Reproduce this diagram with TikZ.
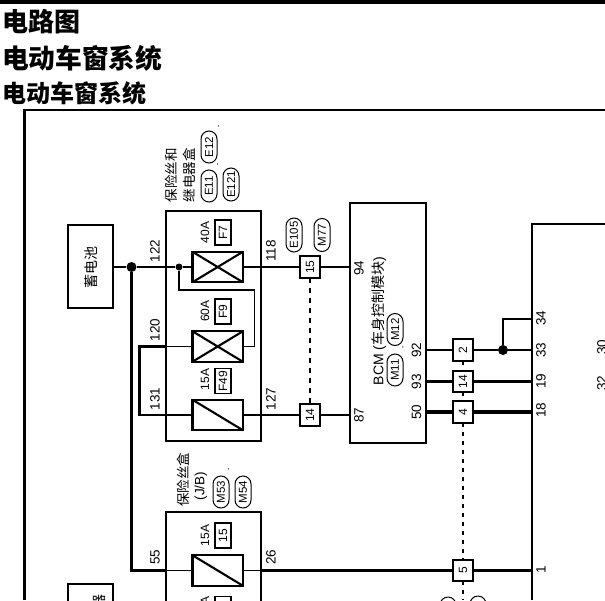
\documentclass[tikz,border=0pt]{standalone}
\usepackage{fontspec}
\setmainfont{Liberation Sans}
\newfontfamily\cjk{Noto Sans CJK SC}
\usetikzlibrary{shapes.misc}
\tikzset{
  boxline/.style={draw=black,line width=2pt,inner sep=0pt,outer sep=0pt},
  fusebox/.style={boxline,line width=2.4pt,minimum width=50.5pt,minimum height=30.5pt},
  tagbox/.style={boxline,line width=1.4pt,minimum width=16pt,minimum height=25pt,font=\fontsize{12}{13}\selectfont},
  term/.style={boxline,line width=1.6pt,fill=white,minimum width=21.5pt,minimum height=20pt,rotate=90,font=\fontsize{12}{13}\selectfont},
  pinnum/.style={rotate=90,inner sep=0pt,font=\fontsize{13.5}{14}\selectfont},
  amp/.style={rotate=90,inner sep=0pt,font=\fontsize{12}{13}\selectfont},
  cjklabel/.style={rotate=90,inner sep=0pt,font=\cjk\fontsize{13.5}{14}\selectfont},
  oval/.style={rounded rectangle,draw=black,line width=1pt,rotate=90,inner sep=0pt,minimum width=32pt,minimum height=16pt,font=\fontsize{11.5}{12}\selectfont},
  commamark/.style={inner sep=0pt,font=\fontsize{8}{8}\selectfont},
  dotbig/.style={circle,fill=black,inner sep=0pt,minimum size=10pt},
  dotsmall/.style={circle,fill=black,inner sep=0pt,minimum size=7pt},
  titletext/.style={anchor=base west,inner sep=0pt},
  wthin/.style={line width=1.3pt},
  wmid/.style={line width=2.1pt},
  wthick/.style={line width=2.8pt},
  wheavy/.style={line width=3.4pt},
  dashw/.style={line width=1.6pt,dash pattern=on 4pt off 5pt},
  dashthin/.style={line width=1.1pt,dash pattern=on 5pt off 5pt},
}
\begin{document}
\begin{tikzpicture}[x=1pt,y=-1pt]
\useasboundingbox (0,0) rectangle (605,600);
\clip (0,0) rectangle (605,600);
\fill[white] (0,0) rectangle (605,600);
\fill[black] (0,0) rectangle (605,4);
% titles
\node[titletext,font=\cjk\bfseries\fontsize{26}{28}\selectfont] (t1) at (2,31) {电路图};
\node[titletext,font=\cjk\bfseries\fontsize{26.7}{28}\selectfont] (t2) at (2,68) {电动车窗系统};
\node[titletext,font=\cjk\bfseries\fontsize{24}{26}\selectfont] (t3) at (2,102) {电动车窗系统};
% frame and right module
\draw[line width=2.2pt] (24.5,600) -- (24.5,110) -- (605,110);
\draw[line width=2pt] (531.7,600) -- (531.7,224) -- (605,224);
\coordinate (p34) at (531.7,319);
\coordinate (p33) at (531.7,350);
\coordinate (p19) at (531.7,381.5);
\coordinate (p18) at (531.7,412);
\coordinate (p1) at (531.7,570.5);
% boxes
\node[boxline,minimum width=45pt,minimum height=83pt] (batt) at (90.5,266.5) {};
\node[cjklabel,font=\cjk\fontsize{14}{15}\selectfont] (battl) at (91.5,267) {蓄电池};
\node[boxline,minimum width=45pt,minimum height=60pt] (low) at (90.5,614) {};
\node[cjklabel,font=\cjk\fontsize{14}{15}\selectfont] (lowl) at (99.5,601) {器};
\node[boxline,minimum width=94.5pt,minimum height=230pt] (fb1) at (213.3,325.5) {};
\node[boxline,minimum width=94.5pt,minimum height=200pt] (fb2) at (213.3,612) {};
\node[boxline,minimum width=75.5pt,minimum height=240pt] (bcm) at (387.8,323) {};
% fuses
\node[fusebox] (f7) at (217.7,267) {};
\node[fusebox] (f9) at (217.7,346.5) {};
\node[fusebox] (f49) at (217.7,415) {};
\node[fusebox] (f15) at (217.7,570.5) {};
\draw[wmid] (f7.north west) -- (f7.south east) (f7.south west) -- (f7.north east);
\draw[wmid] (f9.north west) -- (f9.south east) (f9.south west) -- (f9.north east);
\draw[wmid] (f49.north west) -- (f49.south east);
\draw[wmid] (f15.north west) -- (f15.south east);
\node[tagbox] (tf7) at (223,232.5) {\rotatebox{90}{F7}};
\node[tagbox] (tf9) at (223,311.5) {\rotatebox{90}{F9}};
\node[tagbox] (tf49) at (223,381) {\rotatebox{90}{F49}};
\node[tagbox] (tf15) at (223,535.5) {\rotatebox{90}{15}};
\node[tagbox] (tflow) at (223,609) {};
\node[amp] (a40) at (205,232.5) {40A};
\node[amp] (a60) at (205,311) {60A};
\node[amp] (a15a) at (205,379.5) {15A};
\node[amp] (a15b) at (205,535.5) {15A};
\node[amp] (a15c) at (205,600) {A};
% junctions
\node[dotbig] (j1) at (131.5,267) {};
\node[dotsmall] (j2) at (179,267) {};
\node[dotbig] (j3) at (503,350) {};
% terminals
\node[term] (c15) at (310,267) {15};
\node[term] (c14a) at (310,415) {14};
\node[term] (c2) at (463,350) {2};
\node[term] (c14b) at (463,381.5) {14};
\node[term] (c4) at (463,412) {4};
\node[term] (c5) at (463,570.5) {5};
\coordinate (cdown) at (463,600);
% wires
\draw[wmid] (batt.east |- j1) -- (j1) -- (j2) -- (f7.west);
\draw[wmid] (f7.east) -- (c15.north);
\draw[wmid] (c15.south) -- (c15.south -| bcm.west);
\draw[wthin] (j2) |- (254.5,290) |- (f9.east);
\draw[wthin] (fb1.west |- f9) -- (f9.west);
\draw[wthin] (fb1.west |- f49) -- (f49.west);
\draw[wthin] (f49.east) -- (fb1.east |- f49);
\draw[wmid] (fb1.east |- f49) -- (c14a.north);
\draw[wmid] (c14a.south) -- (c14a.south -| bcm.west);
\draw[line width=2.2pt] (fb1.west |- f9) -- (139.5,346.5) -- (139.5,415) -- (fb1.west |- f49);
\draw[wthick] (j1) -- (131.5,570.5) -- (fb2.west |- f15);
\draw[wthin] (fb2.west |- f15) -- (f15.west);
\draw[wthin] (f15.east) -- (fb2.east |- f15);
\draw[line width=2.4pt] (fb2.east |- f15) -- (c5.north);
\draw[line width=2.4pt] (c5.south) -- (p1);
\draw[wthick] (bcm.east |- c2) -- (c2.north);
\draw[wthick] (c2.south) -- (j3) -- (p33);
\draw[wmid] (j3) -- (503,319) -- (p34);
\draw[line width=2.4pt] (bcm.east |- c14b) -- (c14b.north);
\draw[line width=2.4pt] (c14b.south) -- (p19);
\draw[wheavy] (bcm.east |- c4) -- (c4.north);
\draw[wheavy] (c4.south) -- (p18);
% dashed shield lines
\draw[dashthin] (c15.west) -- (c14a.east);
\draw[dashw] (c2.west) -- (c14b.east);
\draw[dashw] (c14b.west) -- (c4.east);
\draw[dashw] (c4.west) -- (c5.east);
\draw[dashw] (c5.west) -- (cdown);
% box labels
\node[cjklabel] (fb1a) at (171,175) {保险丝和};
\node[cjklabel] (fb1b) at (189.5,175) {继电器盒};
\node[oval] (e11) at (209,186) {E11};
\node[oval] (e12) at (209,147) {E12};
\node[oval,minimum width=33pt] (e121) at (231,184.5) {E121};
\node[commamark] (cm1) at (217.5,164.5) {,};
\node[commamark] (cm2) at (218.5,126.5) {,};
\node[oval,minimum width=34pt] (e105) at (294,235) {E105};
\node[oval,minimum width=33pt] (m77) at (322,235) {M77};
\node[pinnum,font=\fontsize{14}{15}\selectfont] (bcml) at (379,321) {BCM ({\cjk 车身控制模块})};
\node[oval] (m11) at (395,370) {M11};
\node[oval] (m12) at (395,329.5) {M12};
\node[commamark] (cm3) at (403,347.5) {,};
\node[cjklabel] (fb2a) at (183,479.5) {保险丝盒};
\node[pinnum] (fb2b) at (201,486) {(J/B)};
\node[oval] (m53) at (221,492) {M53};
\node[oval] (m54) at (243,492) {M54};
\node[commamark] (cm4) at (228.5,469.5) {,};
\node[oval] (o1) at (448,613) {};
\node[oval] (o2) at (478,612) {};
% pin numbers
\node[pinnum] (n122) at (155,251) {122};
\node[pinnum] (n118) at (271,251) {118};
\node[pinnum] (n120) at (155,330) {120};
\node[pinnum] (n131) at (155,399) {131};
\node[pinnum] (n127) at (271,399) {127};
\node[pinnum] (n55) at (155,557) {55};
\node[pinnum] (n26) at (271,557) {26};
\node[pinnum] (n94) at (359,268) {94};
\node[pinnum] (n87) at (359,415) {87};
\node[pinnum] (n92) at (416.5,350) {92};
\node[pinnum] (n93) at (416.5,381.5) {93};
\node[pinnum] (n50) at (416.5,412) {50};
\node[pinnum] (n34) at (541,318) {34};
\node[pinnum] (n33) at (541,350) {33};
\node[pinnum] (n19) at (541,381) {19};
\node[pinnum] (n18) at (541,410) {18};
\node[pinnum] (n1) at (541,570) {1};
\node[pinnum] (n30) at (602,347) {30};
\node[pinnum] (n32) at (602,383) {32};
\end{tikzpicture}
\end{document}
